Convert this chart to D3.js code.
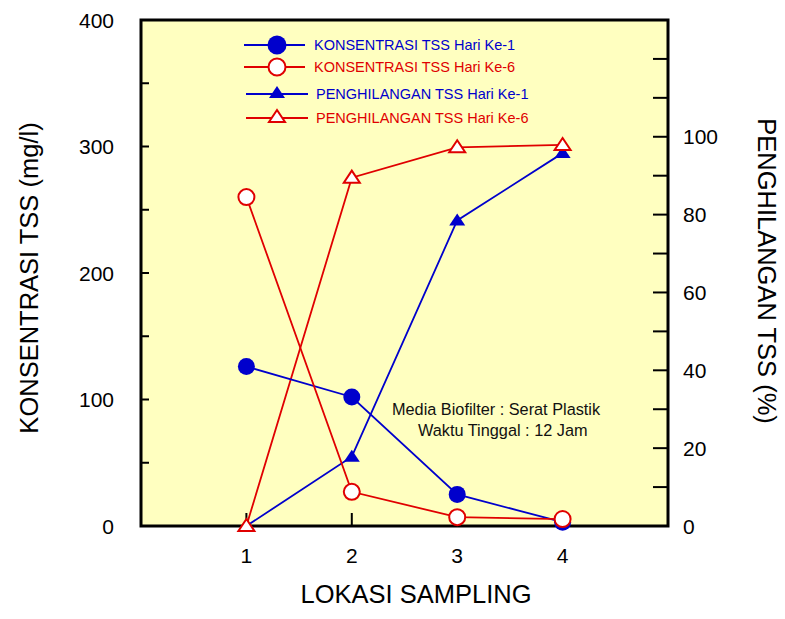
<!DOCTYPE html>
<html><head><meta charset="utf-8">
<script src="https://cdn.jsdelivr.net/npm/d3@7"></script>
<style>body{margin:0;background:#fff}svg{display:block;font-family:"Liberation Sans",Arial,sans-serif}</style>
</head><body><svg id="c" width="785" height="619"></svg>
<script>
const locations = [1, 2, 3, 4];
const konsentrasiHari1 = [126, 102, 25, 3];
const konsentrasiHari6 = [260, 27, 7, 5.5];
const penghilanganHari1 = [0, 17.8, 78.5, 95.8];
const penghilanganHari6 = [0, 89.5, 97.3, 97.9];
const leftTicks = [0, 100, 200, 300, 400];
const rightTicks = [0, 20, 40, 60, 80, 100];

const svg = d3.select("#c");
const L = 141, R = 668, T = 20, B = 526;
const x = d3.scaleLinear().domain([0, 5]).range([L, R]);
const yL = d3.scaleLinear().domain([0, 400]).range([B, T]);
const yR = d3.scaleLinear().domain([0, 130]).range([B, T]);

svg.append("rect").attr("x", L).attr("y", T).attr("width", R - L).attr("height", B - T)
  .attr("fill", "#FFFFC0");

// ticks
const tk = svg.append("g").attr("stroke", "#000").attr("stroke-width", 2);
d3.range(50, 400, 50).forEach(v => tk.append("line").attr("x1", L).attr("x2", L + 8).attr("y1", yL(v)).attr("y2", yL(v)));
d3.range(10, 130, 10).forEach(v => tk.append("line").attr("x1", R - 15).attr("x2", R).attr("y1", yR(v)).attr("y2", yR(v)));
locations.forEach(v => tk.append("line").attr("x1", x(v)).attr("x2", x(v)).attr("y1", B).attr("y2", B - 13));

// tick labels
const fs = 21;
svg.append("g").selectAll("text").data(leftTicks).join("text")
  .attr("x", 114).attr("y", d => yL(d)).attr("dy", "0.36em").attr("text-anchor", "end")
  .attr("font-size", fs).text(d => d);
svg.append("g").selectAll("text").data(rightTicks).join("text")
  .attr("x", 683).attr("y", d => yR(d)).attr("dy", "0.36em").attr("text-anchor", "start")
  .attr("font-size", fs).text(d => d);
svg.append("g").selectAll("text").data(locations).join("text")
  .attr("x", d => x(d)).attr("y", 563).attr("text-anchor", "middle")
  .attr("font-size", fs).text(d => d);

// titles
svg.append("text").attr("x", 416).attr("y", 603).attr("text-anchor", "middle").attr("font-size", 25.5).text("LOKASI SAMPLING");
svg.append("text").attr("transform", "translate(38,278) rotate(-90)").attr("text-anchor", "middle").attr("font-size", 25.5).text("KONSENTRASI TSS (mg/l)");
svg.append("text").attr("transform", "translate(758,271) rotate(90)").attr("text-anchor", "middle").attr("font-size", 25.5).text("PENGHILANGAN TSS (%)");

// frame
svg.append("rect").attr("x", L).attr("y", T).attr("width", R - L).attr("height", B - T)
  .attr("fill", "none").attr("stroke", "#000").attr("stroke-width", 3);

const blue = "#0000CC", red = "#E00000";
const triPath = "M0,-7L8,5L-8,5Z";

function series(vals, ys, color, shape, filled) {
  const pts = vals.map((v, i) => [x(locations[i]), ys(v)]);
  svg.append("path").attr("d", d3.line()(pts)).attr("fill", "none").attr("stroke", color).attr("stroke-width", 1.8);
  const g = svg.append("g");
  pts.forEach(p => {
    if (shape === "circle") {
      g.append("circle").attr("cx", p[0]).attr("cy", p[1]).attr("r", filled ? 8.5 : 8)
        .attr("fill", filled ? color : "#fff").attr("stroke", color).attr("stroke-width", filled ? 0 : 2);
    } else {
      g.append("path").attr("d", triPath).attr("transform", `translate(${p[0]},${p[1]})`)
        .attr("fill", filled ? color : "#fff").attr("stroke", color).attr("stroke-width", filled ? 0 : 2);
    }
  });
}
series(penghilanganHari1, yR, blue, "tri", true);
series(penghilanganHari6, yR, red, "tri", false);
series(konsentrasiHari1, yL, blue, "circle", true);
series(konsentrasiHari6, yL, red, "circle", false);

// legend
const legend = [
  {label: "KONSENTRASI TSS Hari Ke-1", color: blue, shape: "circle", filled: true, y: 45, x1: 244, x2: 305, tx: 314},
  {label: "KONSENTRASI TSS Hari Ke-6", color: red, shape: "circle", filled: false, y: 67, x1: 244, x2: 305, tx: 314},
  {label: "PENGHILANGAN TSS Hari Ke-1", color: blue, shape: "tri", filled: true, y: 94, x1: 246, x2: 308, tx: 316},
  {label: "PENGHILANGAN TSS Hari Ke-6", color: red, shape: "tri", filled: false, y: 118, x1: 246, x2: 308, tx: 316}
];
legend.forEach(d => {
  svg.append("line").attr("x1", d.x1).attr("x2", d.x2).attr("y1", d.y).attr("y2", d.y).attr("stroke", d.color).attr("stroke-width", 1.8);
  if (d.shape === "circle") {
    svg.append("circle").attr("cx", 277).attr("cy", d.y).attr("r", d.filled ? 9.5 : 8.5)
      .attr("fill", d.filled ? d.color : "#fff").attr("stroke", d.color).attr("stroke-width", d.filled ? 0 : 2);
  } else {
    svg.append("path").attr("d", triPath).attr("transform", `translate(277,${d.y - 1})`)
      .attr("fill", d.filled ? d.color : "#fff").attr("stroke", d.color).attr("stroke-width", d.filled ? 0 : 2);
  }
  svg.append("text").attr("x", d.tx).attr("y", d.y).attr("dy", "0.36em").attr("font-size", 14.5).attr("fill", d.color).text(d.label);
});

// annotation
svg.append("text").attr("x", 392).attr("y", 415).attr("font-size", 16.3).attr("fill", "#111").text("Media Biofilter : Serat Plastik");
svg.append("text").attr("x", 418).attr("y", 436).attr("font-size", 16.3).attr("fill", "#111").text("Waktu Tinggal : 12 Jam");
</script></body></html>
